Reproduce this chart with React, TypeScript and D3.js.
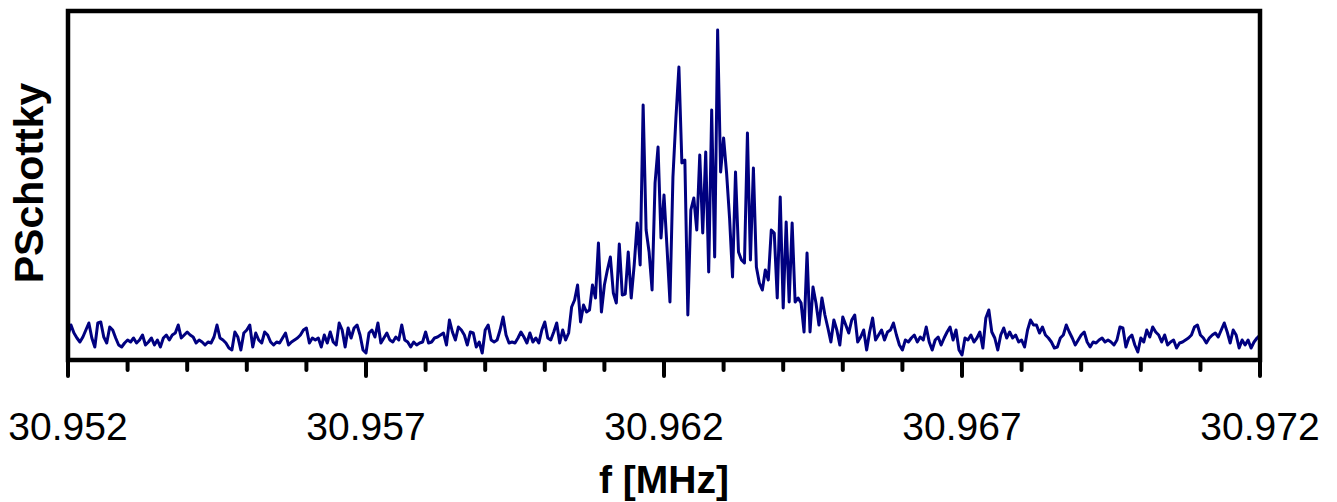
import * as d3 from 'd3';

// spectrum sampled every 0.00005 MHz starting at 30.952 (arbitrary power units)
const F_START = 30.952;
const F_STEP = 0.00005;

const powerLeft = [
  25, 35, 27, 22, 18, 23, 30, 37, 22, 13,
  37, 38, 23, 17, 33, 30, 22, 15, 13, 17,
  20, 18, 22, 17, 20, 25, 15, 18, 22, 15,
  20, 13, 22, 25, 20, 25, 27, 35, 22, 25,
  28, 25, 23, 17, 20, 18, 15, 18, 17, 23,
  35, 22, 20, 17, 12, 10, 28, 23, 10, 27,
  30, 35, 13, 27, 20, 17, 28, 25, 18, 15,
  18, 17, 22, 27, 15, 18, 20, 22, 25, 30,
  32, 17, 22, 20,
];

const powerMidLeft = [
  22, 13, 25, 17, 28, 18, 15, 37, 30, 13,
  32, 22, 32, 35, 25, 10, 7, 27, 30, 23,
  37, 17, 22, 27, 20, 18, 23, 20, 35, 20,
  18, 13, 18, 15, 17, 18, 28, 17, 18, 22,
  23, 25, 27, 15, 40, 28, 20, 33, 30, 25,
  15, 28, 27, 13, 18, 7, 30, 35, 20, 18,
  20, 30, 43, 25, 17, 18, 17, 22, 28, 23,
  17, 27, 18, 22, 17, 30, 38, 22, 20, 28,
  37, 17, 30, 20,
];

const powerPeak = [
  27, 53, 60, 75, 38, 55, 48, 50, 75, 62,
  117, 48, 75, 90, 103, 67, 57, 116, 65, 66,
  108, 62, 95, 137, 95, 255, 130, 108, 70, 177,
  213, 122, 165, 113, 58, 183, 242, 293, 197, 200,
  45, 150, 162, 130, 205, 127, 208, 88, 250, 103,
  330, 188, 222, 187, 142, 83, 188, 108, 100, 97,
  227, 100, 192, 93, 77, 70, 90, 80, 130, 127,
  62, 163, 52, 138, 58, 137, 58, 62, 57, 28,
  107, 28, 73, 57, 35, 62, 45, 32, 18, 40,
  30, 15, 43, 35, 27,
];

const powerRight = [
  40, 45, 18, 23, 30, 10, 28, 42, 20, 25,
  30, 20, 28, 30, 37, 25, 15, 10, 20, 18,
  22, 25, 18, 23, 20, 33, 18, 10, 20, 23,
  15, 22, 28, 33, 20, 30, 10, 5, 22, 20,
  25, 18, 22, 28, 12, 42, 50, 28, 22, 10,
  25, 32, 22, 28, 22, 25, 18, 20, 13, 30,
  40, 35, 35, 27, 33, 25, 22, 18, 12, 13,
  22, 25, 35, 28, 22, 15, 20, 25, 28, 18,
  13, 18, 17, 20, 22, 18, 20, 18, 15, 20,
  33, 32, 13, 22, 25, 15, 8, 22, 18, 30,
  23, 33, 28, 25, 18, 25, 15, 18, 20, 12,
  17, 18, 20, 22, 25, 33, 35, 25, 22, 17,
  22, 25, 27, 23, 30, 37, 28, 17, 30, 25,
  12, 20, 15, 20, 12, 18, 22, 25,
];

const majorTicks = [30.952, 30.957, 30.962, 30.967, 30.972];
const minorTicks = [30.953, 30.954, 30.955, 30.956, 30.958, 30.959, 30.96, 30.961,
  30.963, 30.964, 30.965, 30.966, 30.968, 30.969, 30.97, 30.971];

const W = 1337, H = 502;
const plot = { left: 68, right: 1260, top: 11, bottom: 360 };
const font = 'Arial, "Liberation Sans", Helvetica, sans-serif';

export default function App() {
  const power = [...powerLeft, ...powerMidLeft, ...powerPeak, ...powerRight];
  const data = power.map((p, i) => ({ f: F_START + i * F_STEP, p }));

  const x = d3.scaleLinear().domain([30.952, 30.972]).range([plot.left, plot.right]);
  const y = d3.scaleLinear().domain([0, 349]).range([plot.bottom, plot.top]);

  const line = d3.line<{ f: number; p: number }>()
    .x((d) => x(d.f))
    .y((d) => y(d.p));

  return (
    <svg width={W} height={H} style={{ position: 'absolute', left: 0, top: 0, background: '#fff' }}>
      <path d={line(data) ?? ''} fill="none" stroke="#000080" strokeWidth={3} strokeLinejoin="round" />

      <rect x={plot.left} y={plot.top} width={plot.right - plot.left} height={plot.bottom - plot.top}
        fill="none" stroke="#000" strokeWidth={4.5} />

      {minorTicks.map((t) => (
        <line key={'m' + t} x1={x(t)} x2={x(t)} y1={plot.bottom} y2={370}
          stroke="#000" strokeWidth={4} strokeLinecap="round" />
      ))}
      {majorTicks.map((t) => (
        <g key={'M' + t}>
          <line x1={x(t)} x2={x(t)} y1={plot.bottom} y2={376}
            stroke="#000" strokeWidth={4} strokeLinecap="round" />
          <text x={x(t)} y={440} textAnchor="middle" fontFamily={font} fontSize={39} fill="#000">
            {d3.format('.3f')(t)}
          </text>
        </g>
      ))}

      <text x={(plot.left + plot.right) / 2} y={493} textAnchor="middle" fontFamily={font}
        fontSize={39} fontWeight="bold" fill="#000">f [MHz]</text>

      <text transform={`translate(43,183) rotate(-90)`} textAnchor="middle" fontFamily={font}
        fontSize={41} fontWeight="bold" fill="#000">PSchottky</text>
    </svg>
  );
}
